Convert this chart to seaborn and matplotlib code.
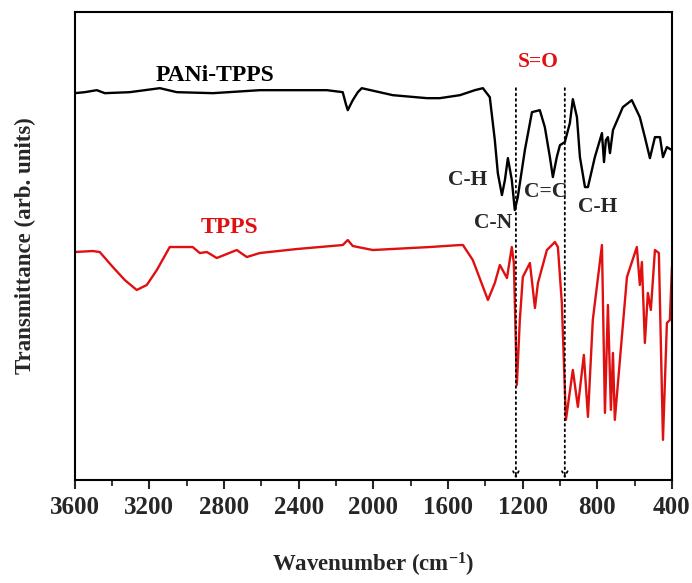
import numpy as np
import pandas as pd
import matplotlib
matplotlib.use("Agg")
import matplotlib.pyplot as plt
import seaborn as sns
from matplotlib.ticker import MultipleLocator

# ---- data (arbitrary transmittance units) ----
pani_wn = [3600, 3546, 3482, 3439, 3305, 3144, 3053, 2860, 2608, 2249, 2164, 2147,
           2137, 2121, 2110, 2083, 2062, 1896, 1713, 1644, 1536, 1456, 1413, 1376,
           1349, 1333, 1311, 1295, 1279, 1258, 1242, 1226, 1188, 1150, 1108, 1081,
           1054, 1038, 1017, 1000, 974, 947, 931, 909, 893, 866, 850, 813, 775, 764,
           754, 743, 732, 716, 663, 615, 572, 545, 518, 491, 464, 448, 427, 400]
pani_t = [387, 388, 390, 387, 388, 392, 388, 387, 390, 390, 388, 376,
          370, 376, 380, 388, 392, 385, 382, 382, 385, 390, 392, 383,
          340, 307, 285, 300, 322, 300, 270, 283, 330, 368, 370, 353,
          323, 303, 323, 335, 338, 357, 381, 363, 323, 293, 293, 323, 347, 318,
          340, 343, 327, 350, 373, 380, 363, 343, 322, 343, 343, 323, 333, 330]

tpps_wn = [3600, 3504, 3466, 3396, 3332, 3268, 3214, 3160, 3091, 2968, 2930, 2892,
           2839, 2732, 2678, 2608, 2410, 2164, 2137, 2110, 2003, 1697, 1536, 1520,
           1467, 1386, 1349, 1322, 1284, 1258, 1247, 1231, 1215, 1199, 1161, 1134,
           1118, 1070, 1027, 1011, 990, 968, 931, 904, 872, 850, 824, 775, 759, 743,
           727, 716, 706, 641, 588, 572, 561, 545, 529, 513, 491, 470, 448, 427, 411, 400]
tpps_t = [228, 229, 228, 213, 200, 190, 195, 210, 233, 233, 227, 228,
          222, 230, 223, 227, 231, 235, 240, 234, 230, 233, 235, 235,
          220, 180, 197, 215, 202, 233, 217, 95, 160, 203, 217, 172,
          197, 230, 238, 233, 177, 60, 110, 73, 125, 63, 160, 235, 67, 175,
          70, 127, 60, 203, 233, 195, 218, 137, 187, 170, 230, 227, 40, 157, 160, 213]

xticks = [3600, 3200, 2800, 2400, 2000, 1600, 1200, 800, 400]
so_lines = [1236, 974]

df = pd.concat([
    pd.DataFrame({"wn": pani_wn, "T": pani_t, "sample": "PANi-TPPS"}),
    pd.DataFrame({"wn": tpps_wn, "T": tpps_t, "sample": "TPPS"}),
])

sns.set_style("ticks")
plt.rcParams['font.family'] = ['Liberation Serif', 'DejaVu Serif']
plt.rcParams['font.weight'] = 'bold'
plt.rcParams['mathtext.fontset'] = 'custom'
plt.rcParams['mathtext.rm'] = 'Liberation Serif:bold'
plt.rcParams['mathtext.bf'] = 'Liberation Serif:bold'
plt.rcParams['mathtext.default'] = 'bf'

fig = plt.figure(figsize=(6.92, 5.83), dpi=100)
ax = fig.add_axes([0.108, 0.177, 0.863, 0.802])

sns.lineplot(data=df, x="wn", y="T", hue="sample",
             palette={"PANi-TPPS": "black", "TPPS": "#e01010"},
             sort=False, estimator=None, lw=1.7, ax=ax, legend=False)

ax.set_xlim(3600, 400)
ax.set_ylim(0, 468)
ax.set_xticks(xticks)
ax.xaxis.set_minor_locator(MultipleLocator(200))
ax.set_yticks([])
ax.tick_params(axis='x', which='major', direction='out', length=6.5, width=1.5,
               labelsize=18, pad=5)
ax.tick_params(axis='x', which='minor', direction='out', length=4, width=1.3)
for lab in ax.get_xticklabels():
    lab.set_fontweight('bold')
for sp in ax.spines.values():
    sp.set_linewidth(1.5)
    sp.set_color('black')

ax.set_xlabel("Wavenumber (cm$^{-1}$)", fontsize=16.5, fontweight='bold', labelpad=23)
ax.set_ylabel("Transmittance (arb. units)", fontsize=16.5, fontweight='bold', labelpad=28)

for wn in so_lines:
    ax.annotate('', xy=(wn, 1), xytext=(wn, 392),
                arrowprops=dict(arrowstyle='->', linestyle=(0, (1, 2)), lw=1.3,
                                color='black', shrinkA=0, shrinkB=0,
                                mutation_scale=10))

ax.text(2850, 405, "PANi-TPPS", ha='center', va='center', fontsize=17, fontweight='bold', color='black')
ax.text(2769, 253, "TPPS", ha='center', va='center', fontsize=17, fontweight='bold', color='#e01010')
ax.text(1118, 418, "S=O", ha='center', va='center', fontsize=15.5, fontweight='bold', color='#e01010')
ax.text(1493, 300, "C-H", ha='center', va='center', fontsize=15.5, fontweight='bold')
ax.text(1360, 257, "C-N", ha='center', va='center', fontsize=15.5, fontweight='bold')
ax.text(1075, 288, "C=C", ha='center', va='center', fontsize=15.5, fontweight='bold')
ax.text(797, 273, "C-H", ha='center', va='center', fontsize=15.5, fontweight='bold')

fig.savefig("out.png", dpi=100)
